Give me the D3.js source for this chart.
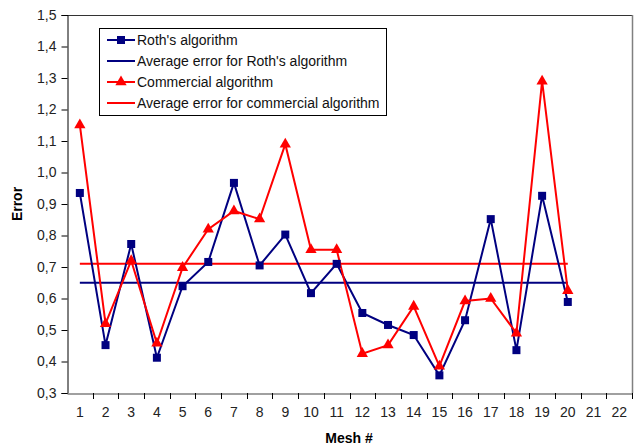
<!DOCTYPE html>
<html><head><meta charset="utf-8">
<script src="https://cdn.jsdelivr.net/npm/d3@7"></script>
<style>body{margin:0;background:#fff}text{font-family:Arial,"Liberation Sans",sans-serif}</style>
</head><body>
<svg id="c" width="638" height="446"></svg>
<script>
const meshes = d3.range(1, 23);
const dataMeshes = d3.range(1, 21);
const roth = [0.935,0.452,0.773,0.412,0.639,0.716,0.967,0.705,0.803,0.617,0.71,0.554,0.516,0.484,0.356,0.531,0.852,0.436,0.926,0.589];
const commercial = [1.151,0.52,0.72,0.458,0.698,0.82,0.878,0.852,1.09,0.755,0.755,0.425,0.452,0.575,0.385,0.592,0.6,0.49,1.29,0.625];
const rothAvg = 0.65;
const commercialAvg = 0.71;
const yTicks = [0.3,0.4,0.5,0.6,0.7,0.8,0.9,1.0,1.1,1.2,1.3,1.4,1.5];
const seriesNames = ["Roth's algorithm","Average error for Roth's algorithm","Commercial algorithm","Average error for commercial algorithm"];

const L=67, R=632, T=15, B=393;
const svg = d3.select("#c");
const x = d3.scaleBand().domain(meshes).range([L,R]);
const y = d3.scaleLinear().domain([0.3,1.5]).range([B,T]);
const cx = d => x(d)+x.bandwidth()/2;
const fmt = v => d3.format(".1f")(v).replace(".", ",");
const FF = "Arial, Liberation Sans, sans-serif";

// border top/right
svg.append("line").attr("x1",L).attr("x2",R).attr("y1",T+0.5).attr("y2",T+0.5).attr("stroke","#333");
svg.append("line").attr("x1",R+0.5).attr("x2",R+0.5).attr("y1",T).attr("y2",B).attr("stroke","#808080").attr("stroke-width",1.5);

// y axis
const ya = svg.append("g").attr("transform",`translate(${L+0.5},0)`)
  .call(d3.axisLeft(y).tickValues(yTicks).tickFormat(fmt).tickSize(6).tickPadding(5));
ya.select(".domain").attr("stroke","#000");
ya.selectAll(".tick line").attr("stroke","#000");
ya.selectAll("text").attr("font-size",14).attr("fill","#222").attr("font-family",FF);

// x axis
const xa = svg.append("g").attr("transform",`translate(0,${B+0.5})`)
  .call(d3.axisBottom(x).tickSize(0).tickPadding(14));
xa.select(".domain").attr("stroke","#808080").attr("stroke-width",1.5);
xa.selectAll("text").attr("font-size",14).attr("fill","#222").attr("font-family",FF);
svg.append("g").selectAll("line").data(meshes.slice(1).concat([23])).join("line")
  .attr("x1",d=>Math.round(d===23?R:x(d))+0.5).attr("x2",d=>Math.round(d===23?R:x(d))+0.5)
  .attr("y1",B).attr("y2",B+6).attr("stroke","#000");

// average lines
svg.append("line").attr("x1",cx(1)).attr("x2",cx(20)).attr("y1",y(rothAvg)).attr("y2",y(rothAvg)).attr("stroke","#000080").attr("stroke-width",2);
svg.append("line").attr("x1",cx(1)).attr("x2",cx(20)).attr("y1",y(commercialAvg)).attr("y2",y(commercialAvg)).attr("stroke","#ff0000").attr("stroke-width",2);

const line = d3.line().x((d,i)=>cx(dataMeshes[i])).y(d=>y(d));
svg.append("path").datum(roth).attr("d",line).attr("fill","none").attr("stroke","#000080").attr("stroke-width",2);
svg.append("path").datum(commercial).attr("d",line).attr("fill","none").attr("stroke","#ff0000").attr("stroke-width",2);

const tri = d3.symbol().type(d3.symbolTriangle).size(55);
svg.append("g").selectAll("path").data(commercial).join("path")
  .attr("d",tri).attr("transform",(d,i)=>`translate(${cx(dataMeshes[i])},${y(d)})`).attr("fill","#ff0000");
svg.append("g").selectAll("rect").data(roth).join("rect")
  .attr("x",(d,i)=>cx(dataMeshes[i])-4).attr("y",d=>y(d)-4).attr("width",8).attr("height",8).attr("fill","#000080");

// axis titles
svg.append("text").attr("transform","translate(22,204) rotate(-90)").attr("text-anchor","middle")
  .attr("font-size",14).attr("font-weight","bold").attr("fill","#000").text("Error");
svg.append("text").attr("x",349).attr("y",443).attr("text-anchor","middle")
  .attr("font-size",14).attr("font-weight","bold").attr("fill","#000").text("Mesh #");

// legend
const lg = svg.append("g");
lg.append("rect").attr("x",99.5).attr("y",28.5).attr("width",287).attr("height",87).attr("fill","#fff").attr("stroke","#000");
const colors = ["#000080","#000080","#ff0000","#ff0000"];
const ly = [40,61,82,103];
seriesNames.forEach((n,i)=>{
  lg.append("line").attr("x1",107).attr("x2",135).attr("y1",ly[i]).attr("y2",ly[i]).attr("stroke",colors[i]).attr("stroke-width",2);
  if(i===0) lg.append("rect").attr("x",117).attr("y",ly[i]-4).attr("width",8).attr("height",8).attr("fill",colors[i]);
  if(i===2) lg.append("path").attr("d",tri).attr("transform",`translate(121,${ly[i]})`).attr("fill",colors[i]);
  lg.append("text").attr("x",137).attr("y",ly[i]).attr("dy","0.36em").attr("font-size",14).attr("fill","#111").text(n);
});
</script>
</body></html>
